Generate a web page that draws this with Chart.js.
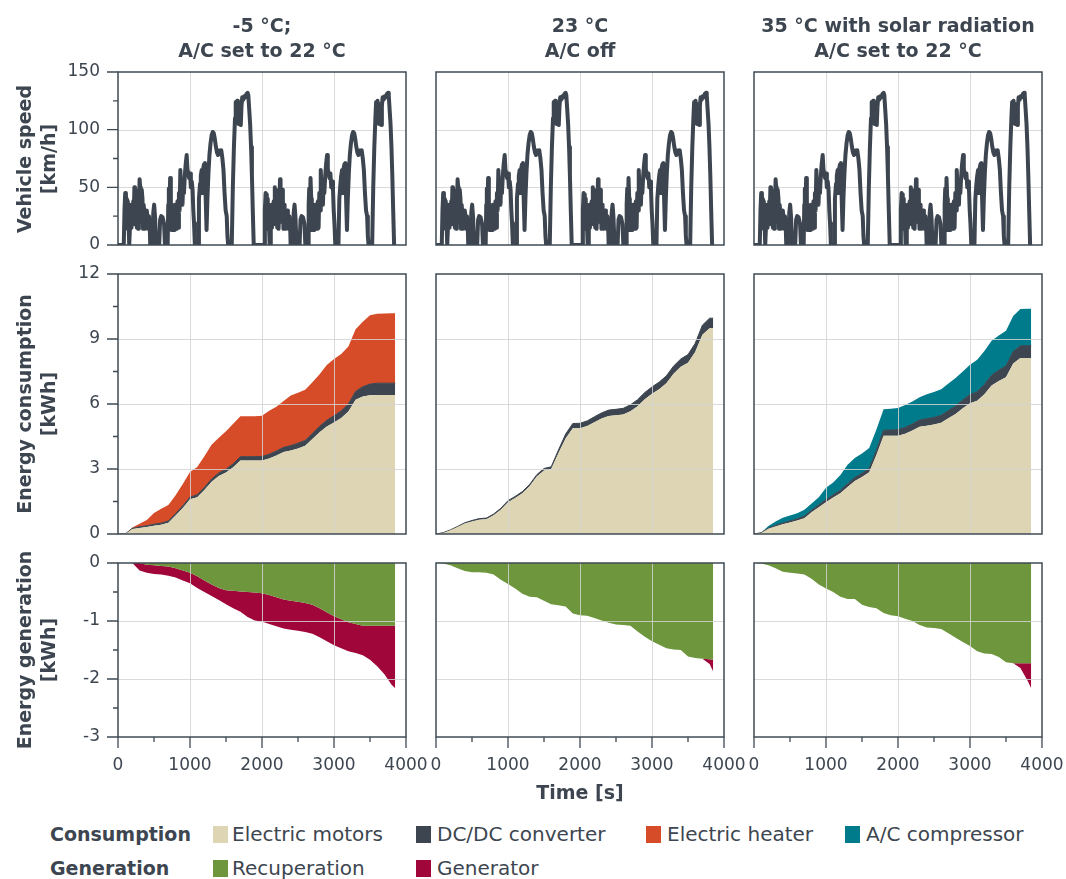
<!DOCTYPE html>
<html>
<head>
<meta charset="utf-8">
<script src="https://cdn.jsdelivr.net/npm/chart.js"></script>
<style>
  body { margin: 0; background: #ffffff; }
  #wrap { position: relative; width: 1066px; height: 879px; overflow: hidden;
          font-family: "DejaVu Sans", sans-serif; color: #3d4650; background: #fff; }
  canvas { position: absolute; }
  .txt { position: absolute; white-space: nowrap; }
  .title { font-weight: bold; font-size: 19px; line-height: 25px; text-align: center; width: 400px; }
  .ytitle { font-weight: bold; font-size: 19px; line-height: 24px; text-align: center; width: 320px;
            transform: translate(-50%, -50%) rotate(-90deg); }
  .leghead { font-weight: bold; font-size: 19px; line-height: 24px; }
  .legtxt { font-size: 20px; line-height: 24px; }
  .sw { position: absolute; width: 15px; height: 17px; }
</style>
</head>
<body>
<div id="wrap"></div>
<script>
// ---------------- DATA ----------------
const columnTitles = [
  ["-5 °C;", "A/C set to 22 °C"],
  ["23 °C", "A/C off"],
  ["35 °C with solar radiation", "A/C set to 22 °C"]
];
const rowTitles = [
  ["Vehicle speed", "[km/h]"],
  ["Energy consumption", "[kWh]"],
  ["Energy generation", "[kWh]"]
];
const xTitle = "Time [s]";

// Vehicle speed trace [time s, speed km/h] (same drive cycle in all three cases)
const speedTrace = [
  [0,0],[80,0],[90,30],[100,45],[110,44],[116,20],[122,40],[130,38],[136,14],[142,28],[150,12],[156,0],[166,0],
  [172,24],[180,35],[188,15],[196,33],[204,20],[212,38],[220,30],[228,50],[236,18],[244,48],[252,40],[262,15],
  [270,25],[280,14],[290,32],[300,57],[308,50],[316,46],[322,20],[330,48],[340,40],[348,14],[356,35],[364,30],
  [372,14],[380,28],[390,22],[400,30],[410,24],[420,14],[430,25],[440,18],[448,0],[478,0],[490,28],[502,35],
  [515,24],[530,0],[572,0],[585,22],[600,25],[620,24],[640,18],[652,0],[690,0],[698,35],[706,49],[714,28],
  [724,58],[734,40],[742,13],[752,33],[760,13],[770,30],[778,13],[788,35],[796,14],[806,33],[816,14],[826,38],
  [836,15],[846,45],[856,30],[866,65],[876,50],[886,52],[896,35],[906,55],[916,45],[928,60],[940,70],[954,78],
  [964,66],[976,62],[988,58],[1000,62],[1012,50],[1024,55],[1036,48],[1046,30],[1056,19],[1068,0],[1112,0],
  [1124,40],[1139,53],[1150,60],[1162,65],[1172,45],[1182,66],[1195,70],[1208,71],[1218,40],[1230,13],[1242,40],
  [1256,62],[1270,78],[1285,88],[1300,95],[1315,98],[1330,97],[1345,92],[1360,85],[1375,80],[1390,78],[1405,82],
  [1420,80],[1435,82],[1450,75],[1465,65],[1480,45],[1495,30],[1510,25],[1520,8],[1530,0],[1580,0],[1595,50],
  [1610,85],[1625,110],[1635,124],[1645,120],[1655,125],[1665,110],[1675,105],[1685,122],[1695,108],[1705,104],
  [1715,120],[1725,128],[1740,126],[1755,129],[1770,128],[1785,131],[1800,132],[1810,130],[1822,118],[1835,105],
  [1848,85],[1860,60],[1872,30],[1885,0],
  [1950,0],[2030,0],[2040,30],[2050,45],[2060,44],[2066,20],[2072,40],[2080,38],[2086,14],[2092,28],[2100,12],
  [2106,0],[2116,0],[2122,24],[2130,35],[2138,15],[2146,33],[2154,20],[2162,38],[2170,30],[2178,50],[2186,18],
  [2194,48],[2202,40],[2212,15],[2220,25],[2230,14],[2240,32],[2250,57],[2258,50],[2266,46],[2272,20],[2280,48],
  [2290,40],[2298,14],[2306,35],[2314,30],[2322,14],[2330,28],[2340,22],[2350,30],[2360,24],[2370,14],[2380,25],
  [2390,18],[2398,0],[2428,0],[2440,28],[2452,35],[2465,24],[2480,0],[2522,0],[2535,22],[2550,25],[2570,24],
  [2590,18],[2602,0],[2640,0],[2648,35],[2656,49],[2664,28],[2674,58],[2684,40],[2692,13],[2702,33],[2710,13],
  [2720,30],[2728,13],[2738,35],[2746,14],[2756,33],[2766,14],[2776,38],[2786,15],[2796,45],[2806,30],[2816,65],
  [2826,50],[2836,52],[2846,35],[2856,55],[2866,45],[2878,60],[2890,70],[2904,78],[2914,66],[2926,62],[2938,58],
  [2950,62],[2962,50],[2974,55],[2986,48],[2996,30],[3006,19],[3018,0],[3062,0],[3074,40],[3089,53],[3100,60],
  [3112,65],[3122,45],[3132,66],[3145,70],[3158,71],[3168,40],[3180,13],[3192,40],[3206,62],[3220,78],[3235,88],
  [3250,95],[3265,98],[3280,97],[3295,92],[3310,85],[3325,80],[3340,78],[3355,82],[3370,80],[3385,82],[3400,75],
  [3415,65],[3430,45],[3445,30],[3460,25],[3470,8],[3480,0],[3530,0],[3545,50],[3560,85],[3575,110],[3585,124],
  [3595,120],[3605,125],[3615,110],[3625,105],[3635,122],[3645,108],[3655,104],[3665,120],[3675,128],[3690,126],
  [3705,129],[3720,128],[3735,131],[3750,132],[3760,130],[3772,118],[3785,105],[3798,85],[3810,60],[3822,30],
  [3835,0]
];

// Time grid of the cumulative energy curves [s]
const energyTime = [0,100,200,300,400,500,600,700,800,900,1000,1100,1200,1300,1400,1500,1600,1700,1800,1900,
  2000,2100,2200,2300,2400,2500,2600,2700,2800,2900,3000,3100,3200,3300,3400,3500,3600,3700,3800,3850];

// -5 °C case [kWh]
const motorsCold = [0,0,0.23,0.28,0.32,0.38,0.43,0.52,0.85,1.2, 1.6,1.7,2.03,2.41,2.68,2.84,3.08,3.39,3.39,3.39,
  3.39,3.48,3.62,3.78,3.85,3.95,4.07,4.38,4.70,4.96, 5.15,5.35,5.65,6.2,6.35,6.4,6.42,6.42,6.42,6.42];
const dcdcCold = [0,0,0.03,0.05,0.06,0.07,0.07,0.08,0.09,0.1, 0.1,0.11,0.12,0.13,0.14,0.15,0.16,0.18,0.18,0.18,
  0.19,0.2,0.21,0.22,0.23,0.24,0.25,0.26,0.27,0.29, 0.31,0.33,0.35,0.38,0.45,0.52,0.54,0.54,0.54,0.54];
const heaterCold = [0,0,0.04,0.14,0.27,0.52,0.67,0.74,0.85,1.01, 1.16,1.28,1.44,1.58,1.62,1.75,1.85,1.87,1.87,1.87,
  1.88,2.01,2.04,2.14,2.31,2.33,2.34,2.36,2.4,2.55, 2.62,2.63,2.65,2.87,3.0,3.18,3.21,3.22,3.23,3.23];
const recupCold = [0,0,0,0,-0.03,-0.04,-0.05,-0.06,-0.09,-0.13, -0.17,-0.23,-0.3,-0.37,-0.43,-0.47,-0.48,-0.49,-0.5,-0.51,
  -0.52,-0.55,-0.59,-0.63,-0.65,-0.67,-0.69,-0.72,-0.78,-0.85, -0.92,-0.97,-1.02,-1.05,-1.08,-1.08,-1.08,-1.08,-1.08,-1.08];
const generatorCold = [0,0,0,-0.13,-0.14,-0.15,-0.15,-0.16,-0.16,-0.17, -0.18,-0.2,-0.2,-0.2,-0.21,-0.24,-0.3,-0.35,-0.43,-0.48,
  -0.49,-0.5,-0.5,-0.5,-0.5,-0.5,-0.5,-0.5,-0.5,-0.5, -0.5,-0.5,-0.5,-0.5,-0.51,-0.59,-0.7,-0.84,-1.02,-1.08];

// 23 °C case [kWh]
const motorsMild = [0,0.05,0.17,0.32,0.48,0.58,0.66,0.68,0.86,1.12, 1.47,1.66,1.88,2.2,2.65,2.93,3.0,3.73,4.41,4.88,
  4.88,4.98,5.16,5.33,5.45,5.48,5.52,5.67,5.9,6.22, 6.47,6.68,6.96,7.4,7.72,7.9,8.4,9.2,9.5,9.5];
const dcdcMild = [0,0.01,0.02,0.03,0.04,0.045,0.05,0.055,0.06,0.065, 0.07,0.075,0.08,0.085,0.09,0.095,0.1,0.14,0.2,0.22,
  0.23,0.24,0.25,0.26,0.27,0.275,0.28,0.29,0.3,0.31, 0.32,0.33,0.34,0.35,0.36,0.38,0.4,0.44,0.46,0.46];
const recupMild = [0,-0.01,-0.04,-0.09,-0.14,-0.16,-0.16,-0.17,-0.2,-0.29, -0.36,-0.44,-0.53,-0.58,-0.59,-0.65,-0.71,-0.73,-0.75,-0.87,
  -0.9,-0.91,-0.95,-0.99,-1.03,-1.06,-1.07,-1.08,-1.18,-1.27, -1.35,-1.41,-1.47,-1.49,-1.5,-1.61,-1.64,-1.65,-1.66,-1.67];
const generatorMild = [0,0,0,0,0,0,0,0,0,0, 0,0,0,0,0,0,0,0,0,0,
  0,0,0,0,0,0,0,0,0,0, 0,0,0,0,0,0,0,0,-0.08,-0.2];

// 35 °C case [kWh]
const motorsHot = [0,0.05,0.24,0.35,0.45,0.53,0.62,0.73,1.0,1.24, 1.46,1.68,1.88,2.17,2.45,2.63,2.85,3.65,4.53,4.53,
  4.54,4.63,4.78,4.95,5.0,5.05,5.14,5.34,5.54,5.8, 6.04,6.15,6.45,6.85,7.06,7.24,7.87,8.12,8.12,8.12];
const dcdcHot = [0,0.01,0.03,0.045,0.06,0.07,0.08,0.09,0.1,0.11, 0.12,0.13,0.14,0.15,0.16,0.17,0.18,0.22,0.26,0.27,
  0.28,0.29,0.3,0.31,0.32,0.33,0.34,0.355,0.37,0.385, 0.4,0.42,0.45,0.475,0.5,0.52,0.55,0.57,0.57,0.57];
const acHot = [0,0,0.1,0.18,0.24,0.25,0.26,0.3,0.31,0.35, 0.55,0.57,0.7,0.88,0.9,0.92,0.94,0.95,0.97,0.98,
  1.0,1.03,1.04,1.05,1.13,1.17,1.2,1.25,1.29,1.32, 1.37,1.47,1.55,1.6,1.6,1.62,1.64,1.69,1.71,1.71];
const recupHot = [0,-0.01,-0.04,-0.09,-0.15,-0.17,-0.18,-0.2,-0.27,-0.37, -0.44,-0.5,-0.58,-0.62,-0.62,-0.72,-0.76,-0.78,-0.86,-0.9,
  -0.92,-0.96,-1.0,-1.07,-1.11,-1.12,-1.14,-1.21,-1.29,-1.36, -1.43,-1.52,-1.56,-1.57,-1.62,-1.71,-1.73,-1.73,-1.73,-1.73];
const generatorHot = [0,0,0,0,0,0,0,0,0,0, 0,0,0,0,0,0,0,0,0,0,
  0,0,0,0,0,0,0,0,0,0, 0,0,0,0,0,0,0,-0.08,-0.3,-0.43];

const legendConsumption = ["Electric motors", "DC/DC converter", "Electric heater", "A/C compressor"];
const legendGeneration = ["Recuperation", "Generator"];

// ---------------- STYLE ----------------
const TXT = '#3d4650';
const FRAME = '#3f4a54';
const GRID = 'rgba(212,212,212,0.85)';
const C_MOTOR = '#ddd5b3', C_DCDC = '#3d4650', C_HEAT = '#d64b28', C_AC = '#007b8c',
      C_RECUP = '#6d963d', C_GEN = '#a0063a', C_SPEED = '#3d4650';

const COL_L = [118, 436, 754];
const PW = 288;
const ROWS = [[72, 245], [274, 534], [563, 737]];
const PADL = 80, PADR = 40, PADT = 20, PADB = 45;

Chart.defaults.font.family = "'DejaVu Sans', sans-serif";
Chart.defaults.font.size = 17;
Chart.defaults.color = TXT;

const wrap = document.getElementById('wrap');

function drawGrid(chart) {
  const { ctx, chartArea: ca, scales: { x, y } } = chart;
  ctx.save();
  ctx.strokeStyle = GRID; ctx.lineWidth = 1;
  ctx.beginPath();
  x.ticks.forEach(t => {
    if (t.value > x.min && t.value < x.max) {
      const px = Math.round(x.getPixelForValue(t.value)) + 0.5;
      ctx.moveTo(px, ca.top); ctx.lineTo(px, ca.bottom);
    }
  });
  y.ticks.forEach(t => {
    if (t.value > y.min && t.value < y.max) {
      const py = Math.round(y.getPixelForValue(t.value)) + 0.5;
      ctx.moveTo(ca.left, py); ctx.lineTo(ca.right, py);
    }
  });
  ctx.stroke();
  ctx.restore();
}
function drawFrame(chart, o) {
  const { ctx, chartArea: ca, scales: { x, y } } = chart;
  ctx.save();
  ctx.strokeStyle = FRAME; ctx.lineWidth = 1.5;
  ctx.strokeRect(ca.left, ca.top, ca.right - ca.left, ca.bottom - ca.top);
  ctx.lineWidth = 1.3;
  ctx.beginPath();
  if (o.xMinor) {
    const n = Math.round((x.max - x.min) / o.xMinor);
    for (let i = 0; i <= n; i++) {
      const v = x.min + i * o.xMinor;
      const major = Math.abs(v / o.xMajor - Math.round(v / o.xMajor)) < 1e-6;
      const px = x.getPixelForValue(v);
      ctx.moveTo(px, ca.bottom); ctx.lineTo(px, ca.bottom + (major ? 11 : 5));
    }
  }
  if (o.yMinor) {
    const n = Math.round((y.max - y.min) / o.yMinor);
    for (let i = 0; i <= n; i++) {
      const v = y.min + i * o.yMinor;
      const major = Math.abs(v / o.yMajor - Math.round(v / o.yMajor)) < 1e-6;
      const py = y.getPixelForValue(v);
      ctx.moveTo(ca.left, py); ctx.lineTo(ca.left - (major ? 11 : 5), py);
    }
  }
  ctx.stroke();
  ctx.restore();
}
const panelPlugin = {
  id: 'panel',
  beforeDatasetsDraw(chart, args, o) { if (!o.gridOnTop) drawGrid(chart); },
  afterDatasetsDraw(chart, args, o) { if (o.gridOnTop) drawGrid(chart); drawFrame(chart, o); }
};

function makePanel(row, col, datasets, yc) {
  const L = COL_L[col], T = ROWS[row][0], B = ROWS[row][1];
  const w = PW + PADL + PADR, h = (B - T) + PADT + PADB;
  const cv = document.createElement('canvas');
  cv.width = w; cv.height = h;
  cv.style.left = (L - PADL) + 'px'; cv.style.top = (T - PADT) + 'px';
  cv.style.width = w + 'px'; cv.style.height = h + 'px';
  wrap.appendChild(cv);
  const bottomRow = row === 2, firstCol = col === 0;
  new Chart(cv, {
    type: 'line',
    data: { datasets },
    options: {
      responsive: false, animation: false, devicePixelRatio: 1,
      layout: { padding: { left: 0, right: PADR, top: PADT, bottom: 0 } },
      elements: { point: { radius: 0 }, line: { tension: 0 } },
      plugins: {
        legend: { display: false }, tooltip: { enabled: false },
        panel: {
          gridOnTop: row > 0,
          xMinor: bottomRow ? 500 : 0, xMajor: 1000,
          yMinor: firstCol ? yc.minor : 0, yMajor: yc.step
        }
      },
      scales: {
        x: {
          type: 'linear', min: 0, max: 4000,
          ticks: { stepSize: 1000, display: bottomRow, autoSkip: false, maxRotation: 0, padding: 7, color: TXT,
                   callback: v => String(v) },
          grid: { display: false, drawTicks: true, tickLength: 11 },
          border: { display: false },
          afterFit(s) { s.height = PADB; }
        },
        y: {
          type: 'linear', min: yc.min, max: yc.max, stacked: yc.stacked,
          ticks: { stepSize: yc.step, display: firstCol, padding: 7, color: TXT,
                   callback: v => String(v) },
          grid: { display: false, drawTicks: true, tickLength: 11 },
          border: { display: false },
          afterFit(s) { s.width = PADL; }
        }
      }
    },
    plugins: [panelPlugin]
  });
}

const pts = arr => energyTime.map((t, i) => ({ x: t, y: arr[i] }));
const area = (arr, color, fill, bw) => ({
  data: pts(arr), backgroundColor: color, borderColor: color, borderWidth: bw || 0, fill, pointRadius: 0
});

const speedCfg = { min: 0, max: 150, step: 50, minor: 25, stacked: false };
const consCfg = { min: 0, max: 12, step: 3, minor: 1.5, stacked: true };
const genCfg = { min: -3, max: 0, step: 1, minor: 0.5, stacked: true };

for (let c = 0; c < 3; c++) {
  makePanel(0, c, [{
    data: speedTrace.map(p => ({ x: p[0], y: p[1] })),
    borderColor: C_SPEED, borderWidth: 4, fill: false, pointRadius: 0,
    borderJoinStyle: 'round', borderCapStyle: 'round'
  }], speedCfg);
}

makePanel(1, 0, [area(motorsCold, C_MOTOR, 'origin'), area(dcdcCold, C_DCDC, '-1', 1), area(heaterCold, C_HEAT, '-1')], consCfg);
makePanel(1, 1, [area(motorsMild, C_MOTOR, 'origin'), area(dcdcMild, C_DCDC, '-1', 1)], consCfg);
makePanel(1, 2, [area(motorsHot, C_MOTOR, 'origin'), area(dcdcHot, C_DCDC, '-1', 1), area(acHot, C_AC, '-1')], consCfg);

makePanel(2, 0, [area(recupCold, C_RECUP, 'origin'), area(generatorCold, C_GEN, '-1')], genCfg);
makePanel(2, 1, [area(recupMild, C_RECUP, 'origin'), area(generatorMild, C_GEN, '-1')], genCfg);
makePanel(2, 2, [area(recupHot, C_RECUP, 'origin'), area(generatorHot, C_GEN, '-1')], genCfg);

// ---------------- TEXT ----------------
function addText(cls, html, left, top, extra) {
  const d = document.createElement('div');
  d.className = 'txt ' + cls;
  d.innerHTML = html;
  d.style.left = left + 'px'; d.style.top = top + 'px';
  if (extra) Object.assign(d.style, extra);
  wrap.appendChild(d);
  return d;
}
columnTitles.forEach((t, c) => {
  const cx = COL_L[c] + PW / 2;
  addText('title', t[0] + '<br>' + t[1], cx - 200, 12.5);
});
rowTitles.forEach((t, r) => {
  const cy = (ROWS[r][0] + ROWS[r][1]) / 2;
  addText('ytitle', t[0] + '<br>' + t[1], 36, cy);
});
addText('title', xTitle, COL_L[1] + PW / 2 - 200, 780);

// legend
addText('leghead', 'Consumption', 50, 822);
addText('leghead', 'Generation', 50, 856);
const consX = [[213, 232], [416, 437], [646, 667], [845, 866]];
const consC = [C_MOTOR, C_DCDC, C_HEAT, C_AC];
legendConsumption.forEach((name, i) => {
  const sw = document.createElement('div'); sw.className = 'sw';
  sw.style.left = consX[i][0] + 'px'; sw.style.top = '826px'; sw.style.background = consC[i];
  wrap.appendChild(sw);
  addText('legtxt', name, consX[i][1], 822);
});
const genX = [[213, 232], [416, 437]];
const genC = [C_RECUP, C_GEN];
legendGeneration.forEach((name, i) => {
  const sw = document.createElement('div'); sw.className = 'sw';
  sw.style.left = genX[i][0] + 'px'; sw.style.top = '860px'; sw.style.background = genC[i];
  wrap.appendChild(sw);
  addText('legtxt', name, genX[i][1], 856);
});
</script>
</body>
</html>
